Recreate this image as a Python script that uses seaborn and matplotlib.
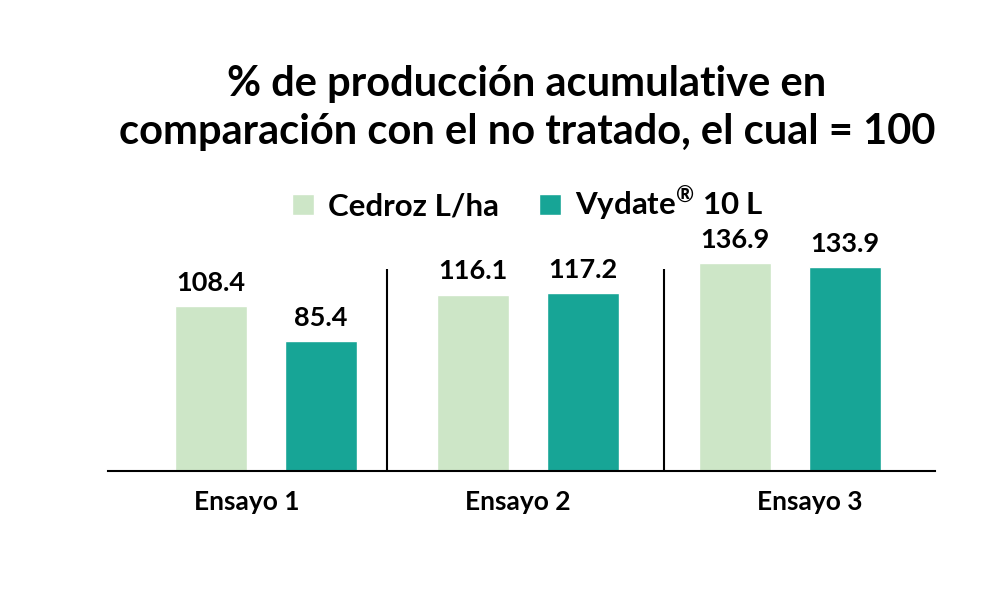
import pandas as pd
import seaborn as sns
import matplotlib.pyplot as plt

# Chart data
ensayos = ["Ensayo 1", "Ensayo 2", "Ensayo 3"]
series = ["Cedroz L/ha", "Vydate® 10 L"]
cedroz = [108.4, 116.1, 136.9]
vydate = [85.4, 117.2, 133.9]
colores = ["#cde6c7", "#17a596"]

df = pd.DataFrame({
    "ensayo": ensayos * 2,
    "tratamiento": [series[0]] * 3 + [series[1]] * 3,
    "valor": cedroz + vydate,
})

sns.set_style("white")
plt.rcParams['font.family'] = ['Lato', 'DejaVu Sans']
plt.rcParams['text.color'] = 'black'
plt.rcParams['xtick.color'] = 'black'
plt.rcParams['mathtext.fontset'] = 'custom'
plt.rcParams['mathtext.rm'] = 'Lato:bold'
plt.rcParams['mathtext.bf'] = 'Lato:bold'

fig = plt.figure(figsize=(10, 6), dpi=100)
ax = fig.add_axes([0.108, 0.215, 0.827, 0.38])

sns.barplot(data=df, x="ensayo", y="valor", hue="tratamiento",
            palette=colores, saturation=1, width=0.84, gap=0.345, ax=ax)

for cont in ax.containers:
    ax.bar_label(cont, fmt="%.1f", padding=8, fontsize=19.5, fontweight="bold")

# separators between groups
ax.vlines([0.46, 1.52], 0, 133, color="black", lw=1.5)

ax.set_xlim(-0.603, 2.553)
ax.set_ylim(0, 150)
ax.set_yticks([])
ax.set_xlabel("")
ax.set_ylabel("")
for s in ["top", "left", "right"]:
    ax.spines[s].set_visible(False)
ax.spines["bottom"].set_color("black")
ax.spines["bottom"].set_linewidth(1.5)

# category labels sit a little off the group centres in the original
ax.set_xticks([-0.073, 0.96, 2.076])
ax.set_xticklabels(ensayos)
ax.tick_params(axis="x", length=0, pad=14, labelsize=19)
for lbl in ax.get_xticklabels():
    lbl.set_fontweight("bold")

handles, labels = ax.get_legend_handles_labels()
ax.legend_.remove()
labels = [l.replace("®", r"$^{\mathrm{®}}$") for l in labels]
fig.legend(handles, labels, loc="center", bbox_to_anchor=(0.528, 0.66), ncol=2,
           frameon=False, prop={"size": 22.5, "weight": "bold"},
           handlelength=0.7, handleheight=0.7, handletextpad=0.45, columnspacing=1.3)

fig.text(0.527, 0.82, "% de producción acumulative en\ncomparación con el no tratado, el cual = 100",
         ha="center", va="center", fontsize=30, fontweight="bold", linespacing=1.33)

fig.savefig("out.png", dpi=100, facecolor="white")
